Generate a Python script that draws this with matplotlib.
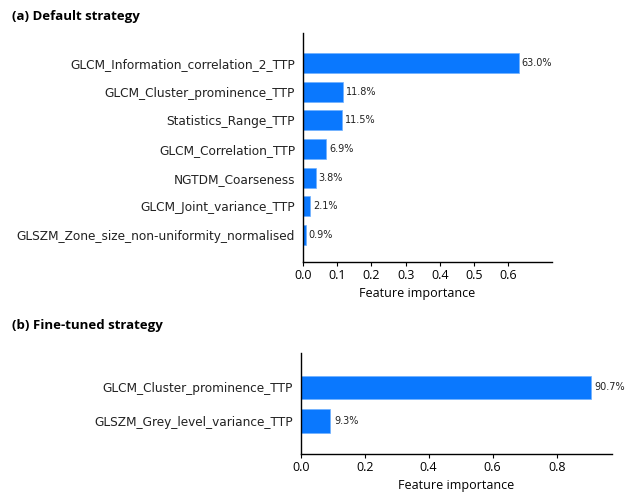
import matplotlib
matplotlib.use('Agg')
import matplotlib.pyplot as plt

# feature importance, default strategy (top to bottom)
feat_a = ['GLCM_Information_correlation_2_TTP', 'GLCM_Cluster_prominence_TTP',
          'Statistics_Range_TTP', 'GLCM_Correlation_TTP', 'NGTDM_Coarseness',
          'GLCM_Joint_variance_TTP', 'GLSZM_Zone_size_non-uniformity_normalised']
pct_a = [63.0, 11.8, 11.5, 6.9, 3.8, 2.1, 0.9]

# fine-tuned strategy
feat_b = ['GLCM_Cluster_prominence_TTP', 'GLSZM_Grey_level_variance_TTP']
pct_b = [90.7, 9.3]

ticks_a = [0.0, 0.1, 0.2, 0.3, 0.4, 0.5, 0.6]
ticks_b = [0.0, 0.2, 0.4, 0.6, 0.8]

bar_color = '#0a78fe'
label_font = 'Open Sans'


def draw(ax, names, pcts, ticks, xmax):
    n = len(names)
    ypos = list(range(n - 1, -1, -1))
    vals = [p / 100 for p in pcts]
    ax.barh(ypos, vals, height=0.7, color=bar_color, edgecolor='#6fb0ff', linewidth=0.5)
    for y, v, p in zip(ypos, vals, pcts):
        ax.text(v + xmax * 0.012, y, '%.1f%%' % p, va='center', ha='left',
                fontsize=7, family='DejaVu Sans', color='#222222')
    ax.set_yticks(ypos)
    ax.set_yticklabels(names, fontsize=8.7, family='DejaVu Sans', color='#222222')
    ax.tick_params(axis='y', length=0, pad=5.5)
    ax.set_xticks(ticks)
    ax.set_xticklabels(['%.1f' % t for t in ticks], fontsize=9, family=label_font)
    ax.tick_params(axis='x', length=3, width=0.8, pad=1.5)
    ax.set_xlim(0, xmax)
    ax.set_xlabel('Feature importance', fontsize=9, family=label_font, labelpad=4)
    for s in ['top', 'right']:
        ax.spines[s].set_visible(False)
    for s in ['left', 'bottom']:
        ax.spines[s].set_linewidth(1.0)
        ax.spines[s].set_color('black')


fig = plt.figure(figsize=(6.28, 4.95), dpi=100)

ax1 = fig.add_axes([0.482, 0.4701, 0.3965, 0.4626])
draw(ax1, feat_a, pct_a, ticks_a, 0.726)
ax1.set_ylim(-0.95, 7.03)
ax1.xaxis.set_label_coords(0.461, -0.11)

ax2 = fig.add_axes([0.4788, 0.0822, 0.4952, 0.2053])
draw(ax2, feat_b, pct_b, ticks_b, 0.972)
ax2.set_ylim(-0.99, 2.03)

fig.text(0.019, 0.967, '(a) Default strategy', fontsize=9.5, fontweight='bold',
         family=label_font, va='center', ha='left')
fig.text(0.019, 0.343, '(b) Fine-tuned strategy', fontsize=9.5, fontweight='bold',
         family=label_font, va='center', ha='left')

fig.savefig('out.png', dpi=100)
